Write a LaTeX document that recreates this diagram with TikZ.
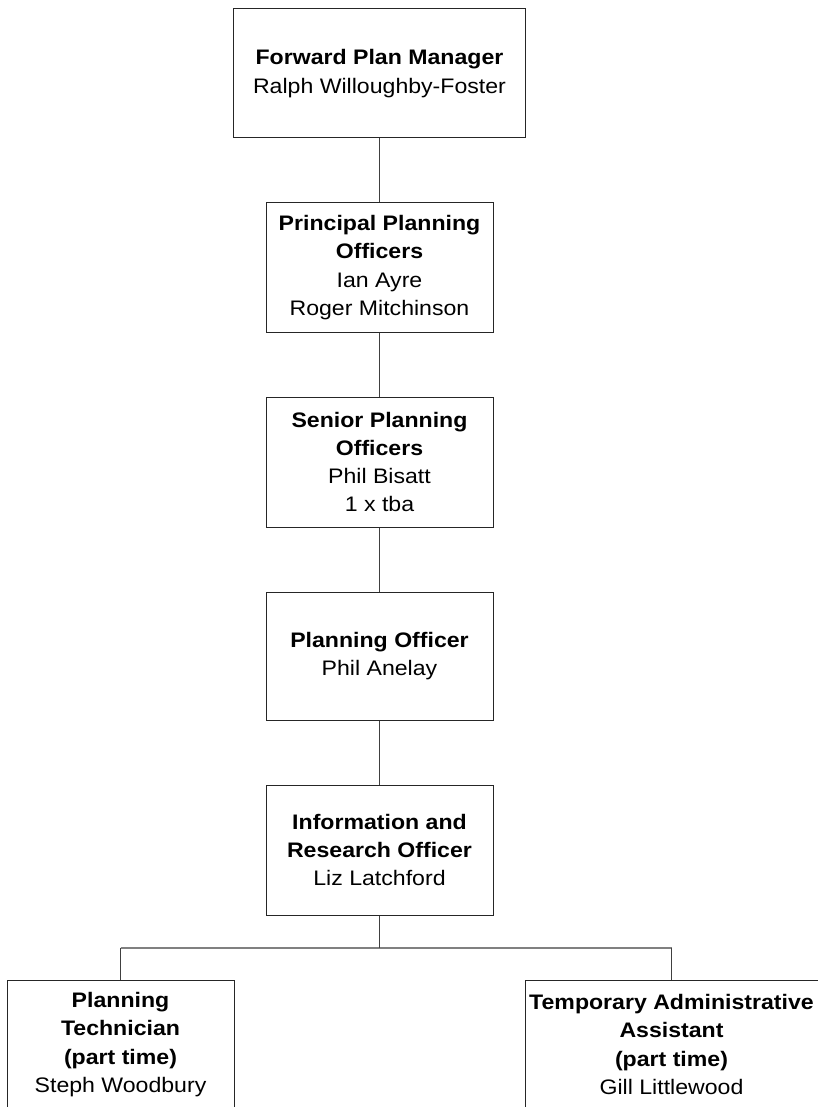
\documentclass[tikz,border=0pt]{standalone}
\usepackage{fontspec}
\setmainfont{Liberation Sans}[FakeStretch=1.1]
\begin{document}
\begin{tikzpicture}[x=1pt,y=-1pt,
  box/.style={draw=black!85, line width=1pt, rectangle, inner sep=0pt,
    align=center, font=\fontsize{21}{28.3}\selectfont,
    minimum width=227pt, minimum height=129pt},
  wide/.style={box, minimum width=292pt},
  conn/.style={draw=black!75, line width=1.1pt},
  bar/.style={draw=black!50, line width=2pt}]
\useasboundingbox (0,0) rectangle (818,1107);
\fill[white] (0,0) rectangle (818,1107);
\node[wide] (b1) at (379.5,73.5) {\textbf{Forward Plan Manager}\\Ralph Willoughby-Foster};
\node[box] (b2) at (379.5,267.5) {\textbf{Principal Planning}\\\textbf{Officers}\\Ian Ayre\\Roger Mitchinson};
\node[box, minimum height=130pt] (b3) at (379.5,462) {\textbf{Senior Planning}\\\textbf{Officers}\\Phil Bisatt\\1 x tba};
\node[box, minimum height=128pt] (b4) at (379.5,656) {\textbf{Planning Officer}\\Phil Anelay};
\node[box, minimum height=130pt] (b5) at (379.5,850) {\textbf{Information and}\\\textbf{Research Officer}\\Liz Latchford};
\node[box] (b6) at (120.5,1044.5) {\textbf{Planning}\\\textbf{Technician}\\\textbf{(part time)}\\Steph Woodbury};
\node[box, minimum width=293pt] (b7) at (671.5,1044.5) {\textbf{Temporary Administrative}\\\textbf{Assistant}\\\textbf{(part time)}\\Gill Littlewood};
\coordinate (j) at (379.5,947.5);
\coordinate (jl) at (120.5,947.5);
\coordinate (jr) at (671.5,947.5);
\draw[conn] (b1.south) -- (b2.north);
\draw[conn] (b2.south) -- (b3.north);
\draw[conn] (b3.south) -- (b4.north);
\draw[conn] (b4.south) -- (b5.north);
\draw[bar] (jl) -- (jr);
\draw[conn] (b5.south) -- (j);
\draw[conn] (jl) -- (b6.north);
\draw[conn] (jr) -- (b7.north);
\end{tikzpicture}
\end{document}
